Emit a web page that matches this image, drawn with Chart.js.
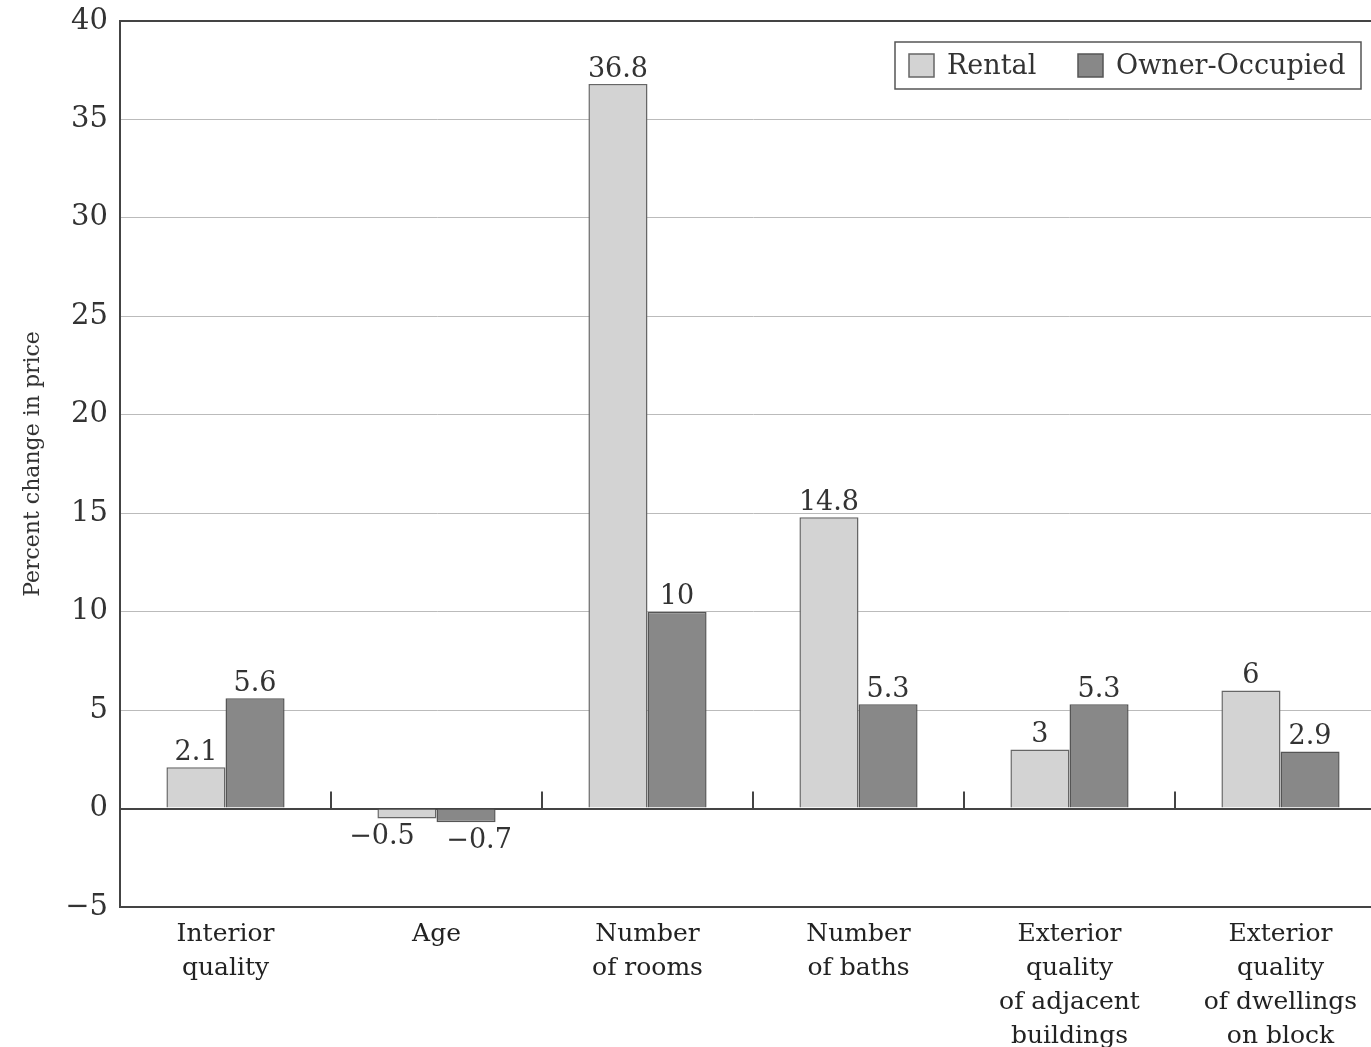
<!DOCTYPE html>
<html>
<head>
    <meta charset="UTF-8">
    <title>Percent change in price</title>
    <style>
        body { margin: 0; background: #fff; overflow: hidden; }
    </style>
</head>
<body>
<canvas id="chart" width="1386" height="1047"></canvas>
<script src="https://cdn.jsdelivr.net/npm/chart.js"></script>
<script>
    // data
    var categories = [
        ["Interior", "quality"],
        "Age",
        ["Number", "of rooms"],
        ["Number", "of baths"],
        ["Exterior", "quality", "of adjacent", "buildings"],
        ["Exterior", "quality", "of dwellings", "on block"]
    ];
    var rental = [2.1, -0.5, 36.8, 14.8, 3, 6];
    var ownerOccupied = [5.6, -0.7, 10, 5.3, 5.3, 2.9];
    var seriesNames = ["Rental", "Owner-Occupied"];

    var serif = "'DejaVu Serif', 'Liberation Serif', serif";
    var textColor = "#333";
    var axisColor = "#444";

    function fmt(v) {
        return v < 0 ? "\u2212" + Math.abs(v) : String(v);
    }

    // value labels above / below the bars
    var valueLabels = {
        id: "valueLabels",
        afterDatasetsDraw: function (chart) {
            var ctx = chart.ctx;
            ctx.save();
            ctx.font = "27px " + serif;
            ctx.fillStyle = textColor;
            ctx.textAlign = "center";
            chart.data.datasets.forEach(function (ds, i) {
                chart.getDatasetMeta(i).data.forEach(function (bar, j) {
                    var v = ds.data[j];
                    if (v >= 0) {
                        ctx.textBaseline = "bottom";
                        ctx.fillText(fmt(v), bar.x, bar.y - 1);
                    } else {
                        ctx.textBaseline = "top";
                        ctx.fillText(fmt(v), bar.x - 25 + i * 38, bar.y + 5);
                    }
                });
            });
            ctx.restore();
        }
    };

    // small ticks between categories on the zero line
    var zeroTicks = {
        id: "zeroTicks",
        afterDatasetsDraw: function (chart) {
            var ctx = chart.ctx;
            var x = chart.scales.x, y = chart.scales.y;
            var y0 = y.getPixelForValue(0);
            ctx.save();
            ctx.strokeStyle = axisColor;
            ctx.lineWidth = 2;
            for (var i = 1; i < categories.length; i++) {
                var px = (x.getPixelForValue(i - 1) + x.getPixelForValue(i)) / 2;
                ctx.beginPath();
                ctx.moveTo(px, y0);
                ctx.lineTo(px, y0 - 17);
                ctx.stroke();
            }
            ctx.restore();
        }
    };

    // boxed legend inside the plot
    var boxLegend = {
        id: "boxLegend",
        afterDraw: function (chart) {
            var ctx = chart.ctx;
            var left = 895, top = 42, w = 466, h = 47;
            ctx.save();
            ctx.fillStyle = "#fff";
            ctx.fillRect(left, top, w, h);
            ctx.strokeStyle = "#555";
            ctx.lineWidth = 1.5;
            ctx.strokeRect(left, top, w, h);
            ctx.font = "27px " + serif;
            ctx.textBaseline = "middle";
            ctx.textAlign = "left";
            var xs = [909, 1078];
            chart.data.datasets.forEach(function (ds, i) {
                ctx.fillStyle = ds.backgroundColor;
                ctx.fillRect(xs[i], top + 12, 25, 23);
                ctx.strokeStyle = ds.borderColor;
                ctx.strokeRect(xs[i], top + 12, 25, 23);
                ctx.fillStyle = textColor;
                ctx.fillText(ds.label, xs[i] + 38, top + h / 2 + 1);
            });
            ctx.restore();
        }
    };

    function lineColor(c) {
        var v = c.tick.value;
        return (v === 0 || v === 40 || v === -5) ? axisColor : "#bbb";
    }

    new Chart(document.getElementById("chart"), {
        type: "bar",
        data: {
            labels: categories,
            datasets: [
                {
                    label: seriesNames[0],
                    data: rental,
                    backgroundColor: "#d3d3d3",
                    borderColor: "#666",
                    borderWidth: 1.5
                },
                {
                    label: seriesNames[1],
                    data: ownerOccupied,
                    backgroundColor: "#888",
                    borderColor: "#555",
                    borderWidth: 1.5
                }
            ]
        },
        options: {
            responsive: false,
            animation: false,
            layout: { padding: { top: 21, right: 0, left: 0, bottom: 0 } },
            datasets: {
                bar: { barPercentage: 1, categoryPercentage: 0.56 }
            },
            plugins: {
                legend: { display: false },
                tooltip: { enabled: false }
            },
            scales: {
                x: {
                    grid: { display: false },
                    border: { display: true, color: axisColor, width: 2 },
                    ticks: {
                        color: "#222",
                        font: { family: serif, size: 25, lineHeight: 1.36 },
                        padding: 2,
                        maxRotation: 0,
                        autoSkip: false
                    },
                    afterFit: function (s) { s.height = 140; }
                },
                y: {
                    min: -5,
                    max: 40,
                    ticks: {
                        stepSize: 5,
                        color: textColor,
                        font: { family: serif, size: 29 },
                        padding: 12,
                        callback: function (v) { return fmt(v); }
                    },
                    grid: {
                        color: lineColor,
                        lineWidth: function (c) {
                            var v = c.tick.value;
                            return (v === 0 || v === 40) ? 2 : 1;
                        },
                        drawTicks: false
                    },
                    border: { display: true, color: axisColor, width: 2 },
                    title: {
                        display: true,
                        text: "Percent change in price",
                        color: textColor,
                        font: { family: serif, size: 22 },
                        padding: { top: 20, bottom: 0 }
                    },
                    afterFit: function (s) {
                        s.width = 120;
                        s.paddingTop = 0;
                        s.paddingBottom = 0;
                    }
                }
            }
        },
        plugins: [valueLabels, zeroTicks, boxLegend]
    });
</script>
</body>
</html>
